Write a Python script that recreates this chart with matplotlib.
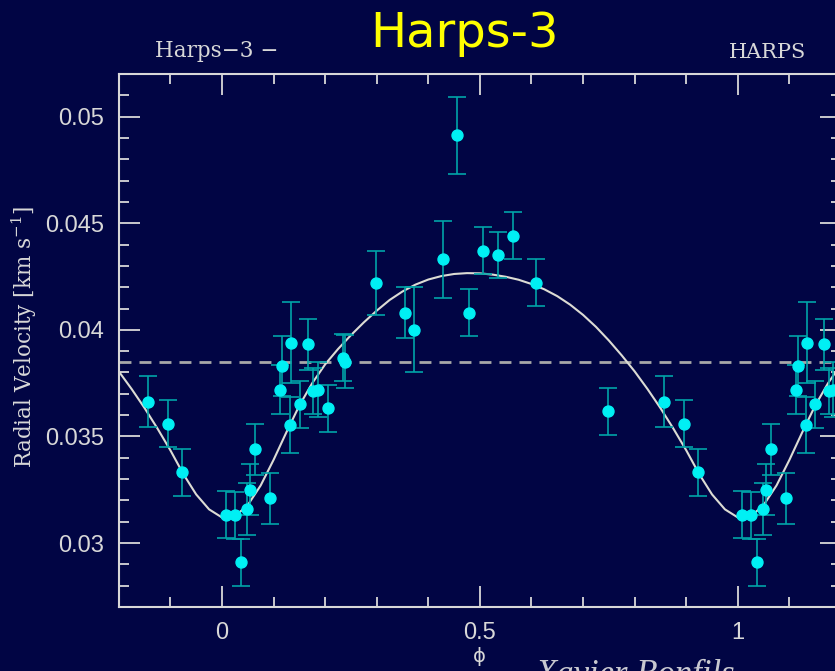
import matplotlib
matplotlib.use("Agg")
import matplotlib.pyplot as plt
import numpy as np
from matplotlib.ticker import MultipleLocator

# Palette
BG = "#010544"
FG = "#d8d8d8"
BAR = "#00a4a8"
DOT = "#00f0f4"
TITLE = "#ffff00"

# Phase-folded radial velocities (km/s), one period; plotted again at phase +/- 1
phase = [0.0084, 0.0250, 0.0374, 0.0484, 0.0542, 0.0639, 0.0935, 0.1123,
         0.1160, 0.1323, 0.1336, 0.1504, 0.1671, 0.1762, 0.1852, 0.2052,
         0.2349, 0.2388, 0.2995, 0.3543, 0.3724, 0.4285, 0.4563, 0.4789,
         0.5066, 0.5357, 0.5634, 0.6079, 0.7487, 0.8560, 0.8960, 0.9226]
rv = [0.03133, 0.03130, 0.02910, 0.03160, 0.03250, 0.03439, 0.03210, 0.03718,
      0.03832, 0.03553, 0.03940, 0.03650, 0.03933, 0.03713, 0.03719, 0.03632,
      0.03870, 0.03850, 0.04220, 0.04081, 0.04000, 0.04331, 0.04913, 0.04081,
      0.04372, 0.04351, 0.04441, 0.04221, 0.03619, 0.03663, 0.03559, 0.03332]
rv_err = [0.0011, 0.0011, 0.0011, 0.0012, 0.0012, 0.0012, 0.0012, 0.00115,
          0.0014, 0.0013, 0.0019, 0.0011, 0.0012, 0.0011, 0.0013, 0.0011,
          0.0011, 0.00125, 0.0015, 0.0012, 0.0020, 0.0018, 0.0018, 0.0011,
          0.0011, 0.0011, 0.0011, 0.0011, 0.0011, 0.0012, 0.0011, 0.0011]

# Fitted orbit, every 0.025 in phase from -0.2 to 1.2
fit_phase = np.linspace(-0.2, 1.2, 57)
fit_rv = [0.03805, 0.03722, 0.03633, 0.03537, 0.03435, 0.03324, 0.03228, 0.03158,
          0.03120, 0.03125, 0.03178, 0.03270, 0.03390, 0.03520, 0.03645, 0.03750,
          0.03838, 0.03910, 0.03975, 0.04035, 0.04090, 0.04140, 0.04180, 0.04212,
          0.04236, 0.04252, 0.04262, 0.04266, 0.04265, 0.04259, 0.04249, 0.04235,
          0.04215, 0.04190, 0.04158, 0.04118, 0.04070, 0.04014, 0.03950, 0.03880,
          0.03805, 0.03722, 0.03633, 0.03537, 0.03435, 0.03324, 0.03228, 0.03158,
          0.03120, 0.03125, 0.03178, 0.03270, 0.03390, 0.03520, 0.03645, 0.03750,
          0.03838]
mean_rv = 0.0385

x_ticks = [0, 0.5, 1]
x_ticklabels = ["0", "0.5", "1"]
y_ticks = [0.03, 0.035, 0.04, 0.045, 0.05]
y_ticklabels = ["0.03", "0.035", "0.04", "0.045", "0.05"]

plt.rcParams["mathtext.fontset"] = "dejavuserif"
plt.rcParams["mathtext.default"] = "regular"

W, H = 835, 671
fig = plt.figure(figsize=(W / 100, H / 100), dpi=100, facecolor=BG)
# axes frame runs off the right edge, like the cropped original
ax = fig.add_axes([118.8 / W, 1 - 607 / H, (841 - 118.8) / W, (607 - 74) / H])
ax.set_facecolor(BG)
ax.set_xlim(-0.2, 1.2)
ax.set_ylim(0.027, 0.052)

ax.axhline(mean_rv, color="#a8a8a8", lw=2.0, ls=(0, (4.3, 2.9)), zorder=1)
ax.plot(fit_phase, fit_rv, color="#dcdcd4", lw=1.5, zorder=2)

ph = np.asarray(phase)
xs = np.concatenate([ph - 1, ph, ph + 1])
ys = np.tile(rv, 3)
es = np.tile(rv_err, 3)
ax.errorbar(xs, ys, yerr=es, fmt="none", ecolor=BAR, elinewidth=1.2,
            capsize=6.5, capthick=1.2, zorder=3)
ax.plot(xs, ys, "o", color=DOT, ms=7.9, mec=DOT, zorder=4)

for sp in ax.spines.values():
    sp.set_color(FG)
    sp.set_linewidth(1.5)

ax.set_xticks(x_ticks)
ax.set_xticklabels(x_ticklabels)
ax.set_yticks(y_ticks)
ax.set_yticklabels(y_ticklabels)
ax.xaxis.set_minor_locator(MultipleLocator(0.1))
ax.yaxis.set_minor_locator(MultipleLocator(0.001))
ax.tick_params(which="both", direction="in", top=True, right=True,
               color=FG, width=1.3, labelcolor=FG)
ax.tick_params(which="major", length=15)
ax.tick_params(which="minor", length=7.5)
ax.tick_params(axis="y", which="major", pad=10.5)
ax.tick_params(axis="x", which="major", pad=10.5)
for lab in ax.get_xticklabels() + ax.get_yticklabels():
    lab.set_fontfamily("Liberation Sans")
    lab.set_fontsize(17)

fig.text(24 / W, 1 - 336.7 / H, "Radial Velocity [km s$^{-1}$]", rotation=90,
         ha="center", va="center", color=FG, fontsize=15.5, family="DejaVu Serif")
fig.text(479 / W, 1 - 657 / H, r"$\phi$", ha="center", va="center",
         color=FG, fontsize=14)

fig.text(464.5 / W, 1 - 47 / H, "Harps-3", ha="center", va="baseline",
         color=TITLE, fontsize=34.5, family="DejaVu Sans")
fig.text(155 / W, 1 - 57.5 / H, "Harps\u22123 \u2212", ha="left", va="baseline",
         color=FG, fontsize=15.5, family="DejaVu Serif")
fig.text(729 / W, 1 - 58 / H, "HARPS", ha="left", va="baseline",
         color=FG, fontsize=15, family="DejaVu Serif")
# signature, cut by the bottom edge as in the original
fig.text(535 / W, 1 - 684 / H, "Xavier Bonfils", ha="left", va="baseline",
         color="#c8c8d0", fontsize=25, family="Liberation Serif", style="italic")

fig.savefig("out.png", dpi=100, facecolor=BG)
